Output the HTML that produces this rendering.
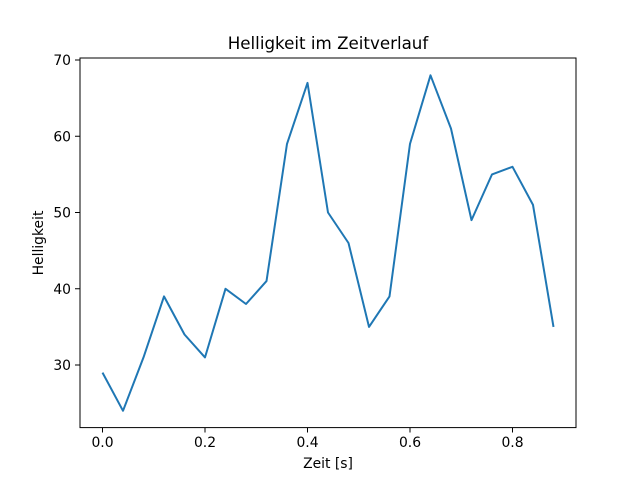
<!DOCTYPE html>
<html><head><meta charset="utf-8"><style>html,body{margin:0;padding:0;background:#fff}svg{display:block}</style></head>
<body>
<svg width="640" height="480" viewBox="0 0 640 480" xmlns="http://www.w3.org/2000/svg" font-family="'DejaVu Sans', sans-serif" font-size="13.9" fill="#000">
<rect width="640" height="480" fill="#fff"/>
<polyline fill="none" stroke="#1f77b4" stroke-width="2" stroke-linejoin="round" points="102.5,372.6 123,410.8 143.5,357.4 164,296.4 184.5,334.5 205,357.4 225.5,288.8 246,304 266.5,281.1 287,143.9 307.5,82.9 328,212.5 348.5,243 369,326.9 389.5,296.4 410,143.9 430.5,75.3 451,128.6 471.5,220.1 492,174.4 512.5,166.8 533,204.9 553.5,326.9"/>
<rect x="80" y="58" width="496" height="369.6" fill="none" stroke="#000" stroke-width="1"/>
<g stroke="#000" stroke-width="1">
<line x1="102.5" y1="427.6" x2="102.5" y2="432.5"/><line x1="205" y1="427.6" x2="205" y2="432.5"/><line x1="307.5" y1="427.6" x2="307.5" y2="432.5"/><line x1="410" y1="427.6" x2="410" y2="432.5"/><line x1="512.5" y1="427.6" x2="512.5" y2="432.5"/>
<line x1="80" y1="365" x2="75" y2="365"/><line x1="80" y1="288.75" x2="75" y2="288.75"/><line x1="80" y1="212.5" x2="75" y2="212.5"/><line x1="80" y1="136.25" x2="75" y2="136.25"/><line x1="80" y1="60" x2="75" y2="60"/>
</g>
<g text-anchor="middle">
<text x="102.5" y="447">0.0</text><text x="205" y="447">0.2</text><text x="307.5" y="447">0.4</text><text x="410" y="447">0.6</text><text x="512.5" y="447">0.8</text>
<text x="328" y="468">Zeit [s]</text>
<text x="328" y="49" font-size="16.7">Helligkeit im Zeitverlauf</text>
<text transform="translate(43,243) rotate(-90)">Helligkeit</text>
</g>
<g text-anchor="end">
<text x="71" y="370">30</text><text x="71" y="293.8">40</text><text x="71" y="217.5">50</text><text x="71" y="141.3">60</text><text x="71" y="65">70</text>
</g>
</svg>
</body></html>
